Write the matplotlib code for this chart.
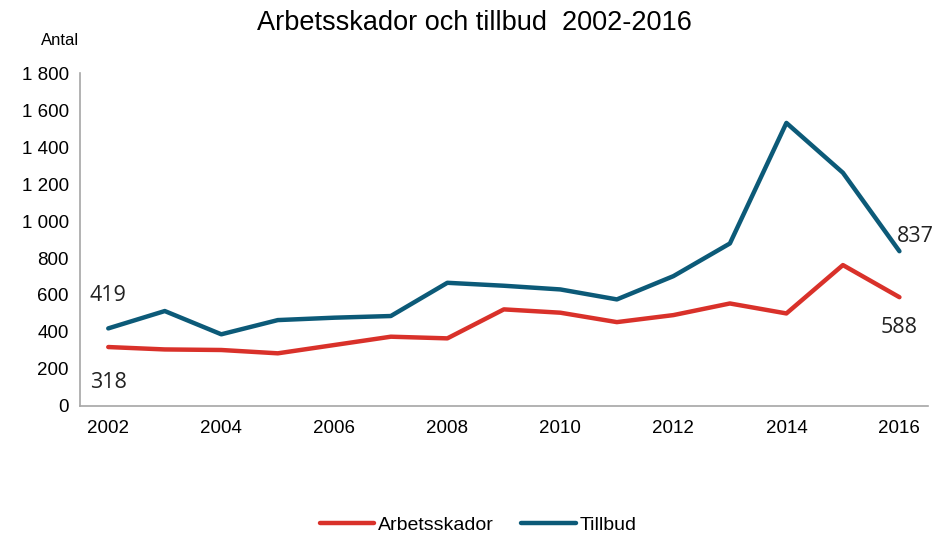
import matplotlib
matplotlib.use("Agg")
import matplotlib.pyplot as plt
from matplotlib.ticker import FuncFormatter

# Data
years = list(range(2002, 2017))
arbetsskador = [318, 305, 302, 284, 329, 374, 365, 522, 504, 453, 491, 554, 500, 762, 588]
tillbud = [419, 513, 387, 464, 477, 486, 666, 650, 630, 576, 702, 879, 1532, 1262, 837]
xticks = list(range(2002, 2017, 2))

plt.rcParams["font.family"] = ["Liberation Sans", "DejaVu Sans"]

fig = plt.figure(figsize=(9.38, 5.36), dpi=100)
ax = fig.add_axes([0.0853, 0.243, 0.9037, 0.62])

rod = "#D9312A"
bla = "#0C5A78"
ax.plot(years, arbetsskador, color=rod, lw=3.2, label="Arbetsskador", solid_capstyle="round")
ax.plot(years, tillbud, color=bla, lw=3.2, label="Tillbud", solid_capstyle="round")

ax.set_xlim(2001.5, 2016.5)
ax.set_ylim(0, 1800)
ax.set_yticks(range(0, 1801, 200))
ax.yaxis.set_major_formatter(FuncFormatter(lambda v, p: f"{int(v):,}".replace(",", " ")))
ax.set_xticks(xticks)
ax.tick_params(length=0, labelsize=13.5, colors="black")
ax.tick_params(axis="x", pad=10)
ax.tick_params(axis="y", pad=8)

for s in ["top", "right"]:
    ax.spines[s].set_visible(False)
for s in ["left", "bottom"]:
    ax.spines[s].set_color("#A6A6A6")
    ax.spines[s].set_linewidth(1.2)

# Etiketter vid första och sista punkten
etikett = dict(fontsize=15.5, family=["Open Sans", "DejaVu Sans"], color="#222222", va="center")
ax.text(years[0], tillbud[0] + 180, str(tillbud[0]), ha="center", **etikett)
ax.text(years[0], arbetsskador[0] - 190, str(arbetsskador[0]), ha="center", **etikett)
ax.text(years[-1] - 0.05, tillbud[-1] + 80, str(tillbud[-1]), ha="left", **etikett)
ax.text(years[-1], arbetsskador[-1] - 165, str(arbetsskador[-1]), ha="center", **etikett)

fig.text(0.506, 0.957, "Arbetsskador och tillbud  2002-2016", ha="center", va="center", fontsize=19.5)
fig.text(0.064, 0.925, "Antal", ha="center", va="center", fontsize=12)

fig.legend(loc="center", bbox_to_anchor=(0.51, 0.02), ncol=2, frameon=False, fontsize=14,
           handlelength=2.8, handletextpad=0.2, columnspacing=1.4)

fig.savefig("out.png", dpi=100)
